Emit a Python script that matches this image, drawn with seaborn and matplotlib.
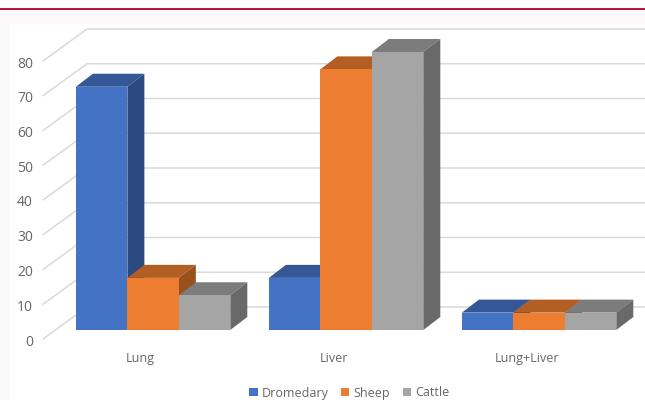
import matplotlib
matplotlib.use("Agg")
import matplotlib.pyplot as plt
from matplotlib.patches import Polygon, Rectangle
from matplotlib.transforms import ScaledTranslation
import pandas as pd
import seaborn as sns

organs = ["Lung", "Liver", "Lung+Liver"]
dromedary = [70, 15, 5]
sheep = [15, 75, 5]
cattle = [10, 80, 5]
species = ["Dromedary", "Sheep", "Cattle"]
y_ticks = [0, 10, 20, 30, 40, 50, 60, 70, 80]

front_colors = ["#4472C4", "#ED7D31", "#A5A5A5"]
top_colors = ["#335797", "#B35E22", "#7C7C7C"]
side_colors = ["#2A4A80", "#99501C", "#696969"]
grid_color = "#D9D9D9"
text_color = "#666666"

W, H = 645, 400

sns.set_theme(style="white")
plt.rcParams["font.family"] = ["Open Sans", "DejaVu Sans"]

fig = plt.figure(figsize=(W / 100, H / 100), dpi=100, facecolor="white")

# page backdrop: rule across the top and a tinted band around the white panel
fig.add_artist(Rectangle((0, 0), 1, 1 - 9 / H, transform=fig.transFigure,
                         facecolor="#FBF8FA", edgecolor="none", zorder=-10))
fig.add_artist(Rectangle((0, 1 - 9.5 / H), 1, 1.5 / H, transform=fig.transFigure,
                         facecolor="#B5183F", edgecolor="none", zorder=-9))
fig.add_artist(Rectangle((9 / W, 0), 1 - 9 / W, 1 - 24 / H, transform=fig.transFigure,
                         facecolor="white", edgecolor="none", zorder=-8))

# plot plane of the bar fronts
left, right, top, bottom = 56.6, 635.6, 52, 330
ax = fig.add_axes([left / W, 1 - bottom / H, (right - left) / W, (bottom - top) / H])
ax.patch.set_alpha(0)

df = pd.DataFrame({
    "organ": organs * 3,
    "species": [s for s in species for _ in organs],
    "value": dromedary + sheep + cattle,
})
sns.barplot(data=df, x="organ", y="value", hue="species", order=organs, hue_order=species,
            palette=front_colors, saturation=1, width=0.8, gap=0, errorbar=None,
            legend=True, linewidth=0, ax=ax)

ax.set_xlim(-0.5, 2.5)
ax.set_ylim(0, 80)
ax.set_xlabel("")
ax.set_ylabel("")
sns.despine(ax=ax, left=True, bottom=True)

px_x = 3 / (right - left)
px_y = 80 / (bottom - top)


def shift(x, y, dx_px, dy_px):
    """Move a data point by a screen offset given in pixels (y upward)."""
    return x + dx_px * px_x, y + dy_px * px_y


# wall and floor gridlines: diagonal on the side wall, horizontal on the back wall
x_edge = -0.5
for v in y_ticks:
    x0, y0 = shift(x_edge, v, -13.6, -9)
    x1, y1 = shift(x_edge, v, 30.4, 23)
    x2, _ = shift(2.5, v, 10, 0)
    ax.plot([x0, x1, x2], [y0, y1, y1], color=grid_color, lw=1.1, clip_on=False, zorder=0.5)

# extrude each bar front into a box
depth_x, depth_y = 17, 13
bars = [p for p in ax.patches if p.get_height() > 0]
for i, bar in enumerate(sorted(bars, key=lambda p: p.get_x())):
    fc = bar.get_facecolor()
    idx = front_colors.index(matplotlib.colors.to_hex(fc).upper())
    x0, x1 = bar.get_x(), bar.get_x() + bar.get_width()
    h = bar.get_height()
    z = 2 + i
    bar.set_zorder(z + 0.5)
    tl = shift(x0, h, depth_x, depth_y)
    tr = shift(x1, h, depth_x, depth_y)
    br = shift(x1, 0, depth_x, depth_y)
    ax.add_patch(Polygon([(x0, h), (x1, h), tr, tl], closed=True, facecolor=top_colors[idx],
                         edgecolor="none", clip_on=False, zorder=z))
    ax.add_patch(Polygon([(x1, 0), br, tr, (x1, h)], closed=True, facecolor=side_colors[idx],
                         edgecolor="none", clip_on=False, zorder=z))

# axis labels sit on the front edge of the floor and side wall
ax.set_yticks(y_ticks)
ax.tick_params(axis="y", length=0, pad=17, labelsize=10, labelcolor=text_color)
ax.tick_params(axis="x", length=0, pad=16, labelsize=9, labelcolor=text_color)
y_label_shift = ScaledTranslation(0, -10 / 100, fig.dpi_scale_trans)
for lab in ax.get_yticklabels():
    lab.set_transform(lab.get_transform() + y_label_shift)
x_label_shift = ScaledTranslation(-12.5 / 100, 0, fig.dpi_scale_trans)
for lab in ax.get_xticklabels():
    lab.set_transform(lab.get_transform() + x_label_shift)

ax.get_legend().remove()
handles = [Rectangle((0, 0), 1, 1, facecolor=c, edgecolor="none") for c in front_colors]
fig.legend(handles, species, loc="center", bbox_to_anchor=(349.5 / W, 1 - 393 / H), ncol=3,
           frameon=False, fontsize=9, labelcolor=text_color, handlelength=0.65, handleheight=0.65,
           handletextpad=0.35, columnspacing=1.0, borderpad=0)

fig.savefig("out.png", dpi=100)
